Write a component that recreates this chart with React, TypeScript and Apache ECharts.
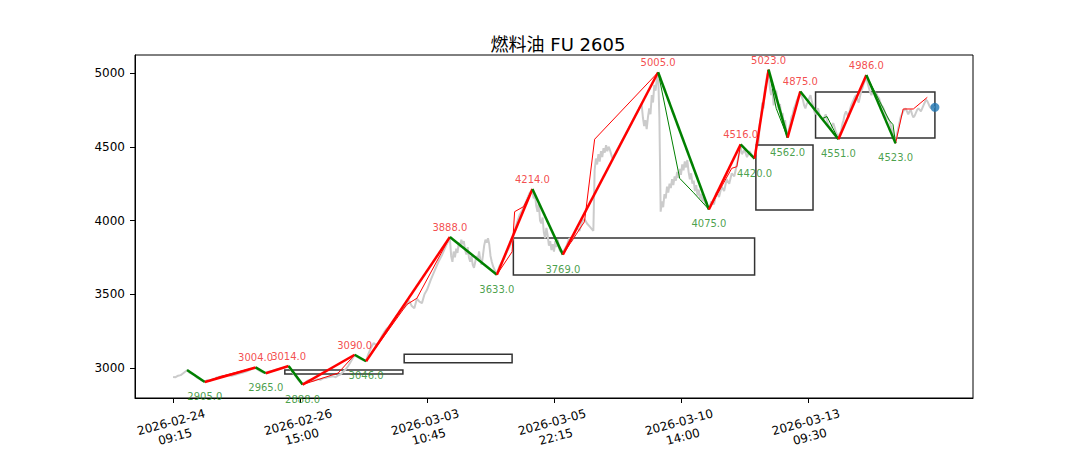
import React, { useEffect, useRef } from "react";
import * as echarts from "echarts";

const titleText = "燃料油 FU 2605";

const xTickIdx = [0, 100, 200, 300, 400, 500];
const xTickLabels = [
  "2026-02-24\n09:15",
  "2026-02-26\n15:00",
  "2026-03-03\n10:45",
  "2026-03-05\n22:15",
  "2026-03-10\n14:00",
  "2026-03-13\n09:30",
];
const yTicks = [3000, 3500, 4000, 4500, 5000];

// close price (bar index, price)
const price: [number, number][] = [
  [0, 2940], [2, 2938], [4, 2948], [6, 2952], [8, 2965], [10, 2978], [11, 2985], [13, 2968], [15, 2960], [17, 2950],
  [19, 2935], [21, 2925], [23, 2915], [25, 2908], [27, 2918], [29, 2912], [31, 2925], [33, 2930], [35, 2938], [37, 2942],
  [40, 2945], [43, 2952], [46, 2948], [49, 2955], [52, 2962], [55, 2970], [58, 2978], [61, 2990], [63, 2998], [65, 3000],
  [67, 2988], [69, 2978], [71, 2970], [73, 2968], [75, 2975], [78, 2980], [81, 2988], [84, 2995], [87, 3002], [89, 3008],
  [91, 3010], [93, 2985], [95, 2960], [97, 2940], [99, 2915], [101, 2898], [102, 2892], [104, 2902], [106, 2915], [108, 2922],
  [110, 2912], [112, 2918], [114, 2925], [116, 2920], [118, 2930], [120, 2932], [123, 2940], [126, 2945], [128, 2938], [130, 2950],
  [132, 2958], [134, 2975], [136, 2992], [138, 3015], [140, 3045], [142, 3075], [143, 3085], [145, 3075], [147, 3065], [149, 3058],
  [151, 3050], [152, 3050], [154, 3100], [156, 3140], [158, 3170], [160, 3155], [162, 3175], [164, 3210], [166, 3240], [168, 3265],
  [170, 3280], [172, 3305], [174, 3330], [176, 3355], [178, 3370], [180, 3395], [182, 3410], [184, 3430], [186, 3455], [188, 3420],
  [190, 3405], [192, 3470], [194, 3450], [196, 3440], [198, 3500], [200, 3530], [203, 3600], [206, 3660], [209, 3720], [212, 3770],
  [215, 3830], [218, 3880], [219, 3760], [220, 3720], [221, 3790], [222, 3750], [223, 3810], [224, 3780], [225, 3850], [226, 3820],
  [227, 3870], [228, 3840], [229, 3860], [230, 3800], [231, 3770], [232, 3820], [233, 3750], [234, 3720], [235, 3760], [236, 3700],
  [237, 3680], [238, 3720], [239, 3760], [240, 3740], [241, 3790], [242, 3730], [243, 3700], [244, 3760], [245, 3830], [246, 3870],
  [247, 3850], [248, 3880], [249, 3840], [250, 3760], [251, 3720], [252, 3690], [253, 3670], [254, 3650], [255, 3640], [257, 3690],
  [259, 3720], [261, 3750], [263, 3790], [265, 3820], [267, 3860], [269, 3930], [271, 3990], [273, 4040], [275, 4070], [277, 4110],
  [279, 4150], [281, 4190], [283, 4205], [284, 4150], [285, 4180], [286, 4100], [287, 4060], [288, 4120], [289, 4000], [290, 3980],
  [291, 4020], [292, 3920], [293, 3880], [294, 3950], [295, 3900], [296, 3830], [297, 3860], [298, 3800], [299, 3840], [300, 3790],
  [301, 3860], [302, 3820], [303, 3870], [304, 3810], [305, 3790], [306, 3800], [307, 3775], [308, 3800], [310, 3830], [312, 3880],
  [314, 3860], [316, 3910], [318, 3950], [320, 3930], [322, 3990], [324, 4010], [326, 3980], [328, 3960], [330, 3940], [331, 3930],
  [332, 4340], [333, 4420], [334, 4380], [335, 4450], [336, 4400], [337, 4470], [338, 4430], [339, 4490], [340, 4460], [341, 4510],
  [342, 4470], [343, 4500], [344, 4480], [345, 4450], [346, 4420], [358, 4610], [369, 4790], [370, 4700], [371, 4640], [372, 4680],
  [373, 4620], [374, 4700], [375, 4760], [376, 4720], [377, 4850], [378, 4800], [379, 4920], [380, 4880], [381, 4960], [382, 5000],
  [383, 4700], [384, 4060], [385, 4130], [386, 4090], [387, 4180], [388, 4150], [389, 4230], [390, 4190], [391, 4250], [392, 4220],
  [393, 4280], [394, 4240], [395, 4300], [396, 4270], [397, 4330], [398, 4290], [399, 4350], [400, 4310], [401, 4380], [402, 4340],
  [403, 4400], [404, 4360], [405, 4410], [406, 4330], [407, 4280], [408, 4320], [409, 4250], [410, 4270], [411, 4200], [412, 4240],
  [413, 4170], [414, 4210], [415, 4150], [416, 4180], [417, 4130], [418, 4160], [419, 4110], [420, 4130], [421, 4090], [422, 4080],
  [424, 4130], [426, 4110], [428, 4190], [430, 4160], [432, 4230], [434, 4200], [436, 4280], [438, 4250], [440, 4320], [442, 4300],
  [444, 4380], [446, 4460], [447, 4500], [448, 4450], [450, 4480], [452, 4430], [454, 4470], [456, 4440], [458, 4425], [459, 4480],
  [460, 4560], [461, 4520], [462, 4650], [463, 4700], [464, 4800], [465, 4760], [466, 4880], [467, 4940], [468, 4990], [469, 5010],
  [470, 4900], [471, 4850], [472, 4890], [473, 4780], [474, 4830], [475, 4880], [476, 4800], [477, 4750], [478, 4790], [479, 4700],
  [480, 4730], [481, 4650], [482, 4680], [483, 4600], [484, 4570], [485, 4620], [486, 4650], [487, 4700], [488, 4720], [489, 4760],
  [490, 4780], [491, 4810], [492, 4830], [493, 4850], [494, 4865], [495, 4840], [496, 4820], [497, 4780], [498, 4760], [499, 4790],
  [500, 4800], [501, 4830], [502, 4850], [503, 4810], [504, 4780], [505, 4740], [506, 4720], [507, 4750], [508, 4760], [509, 4720],
  [510, 4700], [511, 4690], [512, 4680], [513, 4700], [514, 4720], [515, 4680], [516, 4650], [517, 4630], [518, 4620], [519, 4650],
  [520, 4660], [521, 4630], [522, 4600], [523, 4580], [524, 4560], [525, 4590], [526, 4600], [527, 4650], [528, 4680], [529, 4720],
  [530, 4740], [531, 4720], [532, 4700], [533, 4750], [534, 4780], [535, 4800], [536, 4820], [537, 4840], [538, 4850], [539, 4820],
  [540, 4800], [541, 4840], [542, 4880], [543, 4900], [544, 4930], [545, 4950], [546, 4975], [547, 4930], [548, 4900], [549, 4870],
  [550, 4850], [551, 4870], [552, 4880], [553, 4860], [554, 4860], [555, 4840], [556, 4830], [557, 4800], [558, 4780], [559, 4770],
  [560, 4750], [561, 4720], [562, 4700], [563, 4690], [564, 4680], [565, 4650], [566, 4620], [567, 4590], [568, 4560], [569, 4530],
  [570, 4580], [571, 4620], [572, 4660], [573, 4700], [574, 4720], [575, 4740], [576, 4750], [577, 4760], [578, 4740], [579, 4720],
  [580, 4740], [581, 4750], [582, 4720], [583, 4700], [584, 4710], [585, 4730], [586, 4750], [587, 4760], [588, 4750], [589, 4740],
  [590, 4760], [591, 4780], [592, 4800], [593, 4820], [594, 4810], [595, 4790], [596, 4770], [597, 4760], [598, 4780], [599, 4770],
  [600, 4767],
];

// strokes (bi) turning points
const biIdx = [11, 25, 65, 73, 91, 102, 143, 152, 218, 255, 283, 307, 382, 422, 447, 458, 469, 484, 494, 524, 546, 569];
const biVal = [2987, 2905, 3004, 2965, 3014, 2888, 3090, 3046, 3888, 3633, 4214, 3769, 5005, 4075, 4516, 4420, 5023, 4562, 4875, 4551, 4986, 4523];

// sub-level strokes
const thinStrokes: [number, number][][] = [
  [[25, 2905], [38, 2945], [65, 3004]],
  [[102, 2888], [130, 2966], [143, 3090]],
  [[152, 3046], [184, 3430], [192, 3473], [218, 3888]],
  [[255, 3633], [267, 3788], [269, 4060], [276, 4094], [283, 4214]],
  [[307, 3769], [324, 3992], [332, 4551], [382, 5005]],
  [[382, 5005], [399, 4286], [410, 4188], [422, 4075]],
  [[422, 4075], [440, 4354], [444, 4365], [447, 4516]],
  [[469, 5023], [475, 4760], [484, 4562]],
  [[494, 4875], [511, 4690], [515, 4705], [524, 4551]],
  [[546, 4986], [564, 4680], [567, 4650], [569, 4523]],
  [[569, 4523], [575, 4756], [583, 4756], [594, 4835]],
];

// pivot zones (zhongshu)
const zsStart = [88, 182, 268, 459, 506];
const zsEnd = [181, 267, 458, 504, 600];
const zsLow = [2959, 3036, 3631, 4071, 4559];
const zsHigh = [2986, 3093, 3881, 4512, 4871];

const lastPoint: [number, number] = [600, 4767];

const FONT = "'DejaVu Sans', 'Noto Sans CJK SC', sans-serif";
const UP = "#ff0000";
const DOWN = "#008000";

export default function App() {
  const ref = useRef<HTMLDivElement>(null);
  useEffect(() => {
    if (!ref.current) return;
    const chart = echarts.init(ref.current, null, { renderer: "svg" });
    const series: any[] = [];
    series.push({
      type: "line",
      data: price,
      showSymbol: false,
      silent: true,
      z: 1,
      lineStyle: { color: "#cbcbcb", width: 2 },
      markArea: {
        silent: true,
        itemStyle: { color: "rgba(0,0,0,0)", borderColor: "#333333", borderWidth: 1.5 },
        data: zsStart.map((s, i) => [
          { coord: [s, zsHigh[i]] },
          { coord: [zsEnd[i], zsLow[i]] },
        ]),
      },
    });
    thinStrokes.forEach((pts) => {
      const up = pts[pts.length - 1][1] > pts[0][1];
      series.push({
        type: "line",
        data: pts,
        showSymbol: false,
        silent: true,
        z: 3,
        lineStyle: { color: up ? UP : DOWN, width: 1 },
      });
    });
    for (let i = 0; i < biIdx.length - 1; i++) {
      const up = biVal[i + 1] > biVal[i];
      series.push({
        type: "line",
        data: [
          [biIdx[i], biVal[i]],
          [biIdx[i + 1], biVal[i + 1]],
        ],
        showSymbol: false,
        silent: true,
        z: 4,
        lineStyle: { color: up ? UP : DOWN, width: 2.5 },
      });
    }
    const labelData = biIdx.slice(1).map((x, j) => {
      const i = j + 1;
      const peak = biVal[i] > biVal[i - 1];
      return {
        value: [x, biVal[i]],
        label: {
          show: true,
          position: peak ? "top" : "bottom",
          distance: peak ? 4 : 9,
          color: peak ? "#f02020" : "#1a881a",
          fontSize: 10,
          fontFamily: FONT,
          formatter: biVal[i].toFixed(1),
        },
      };
    });
    series.push({
      type: "scatter",
      data: labelData,
      symbolSize: 1,
      silent: true,
      z: 5,
      itemStyle: { color: "rgba(0,0,0,0)" },
    });
    series.push({
      type: "scatter",
      data: [lastPoint],
      symbolSize: 9,
      silent: true,
      z: 6,
      itemStyle: { color: "#1f77b4" },
    });

    chart.setOption({
      animation: false,
      backgroundColor: "#ffffff",
      title: {
        text: titleText,
        left: 553,
        top: 30,
        textAlign: "center",
        textStyle: { fontSize: 18, fontWeight: "normal", color: "#000", fontFamily: FONT },
      },
      grid: {
        left: 135,
        right: 107,
        top: 55,
        bottom: 52,
        show: true,
        borderColor: "#000",
        borderWidth: 1,
        containLabel: false,
        outerBoundsMode: "none",
      },
      xAxis: {
        type: "value",
        min: -30,
        max: 630,
        splitLine: { show: false },
        axisLine: { show: true, onZero: false, lineStyle: { color: "#000" } },
        axisTick: { show: true, customValues: xTickIdx, length: 5, lineStyle: { color: "#000" } },
        axisLabel: {
          customValues: xTickIdx,
          formatter: (v: number) => {
            const k = xTickIdx.indexOf(Math.round(v));
            return k >= 0 ? xTickLabels[k] : "";
          },
          rotate: 15,
          align: "center",
          verticalAlign: "top",
          margin: 16,
          padding: [0, 8, 0, 0],
          fontSize: 12,
          lineHeight: 15,
          color: "#000",
          fontFamily: FONT,
        },
      },
      yAxis: {
        type: "value",
        min: 2797,
        max: 5122,
        splitLine: { show: false },
        axisLine: { show: true, onZero: false, lineStyle: { color: "#000" } },
        axisTick: { show: true, customValues: yTicks, length: 5, lineStyle: { color: "#000" } },
        axisLabel: {
          customValues: yTicks,
          formatter: (v: number) => String(Math.round(v)),
          margin: 10,
          fontSize: 12,
          color: "#000",
          fontFamily: FONT,
        },
      },
      series,
    });
    return () => chart.dispose();
  }, []);
  return (
    <div
      ref={ref}
      style={{ position: "fixed", left: 0, top: 0, width: 1080, height: 450, background: "#fff" }}
    />
  );
}
